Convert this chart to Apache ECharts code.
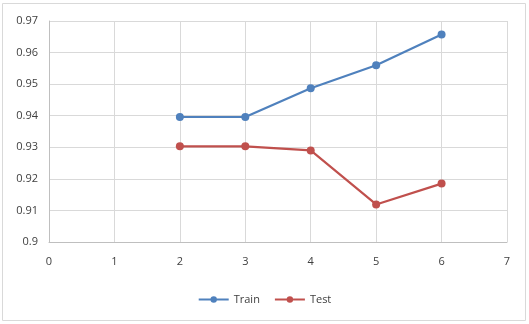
<!DOCTYPE html>
<html>
  <head>
    <meta charset="utf-8">
    <title>Train / Test</title>
    <script src="https://cdn.jsdelivr.net/npm/echarts@6/dist/echarts.min.js"></script>
    <style>
      html, body { margin: 0; padding: 0; background: #fff; }
      #main { width: 529px; height: 324px; }
    </style>
  </head>
  <body>
    <div id="main"></div>
    <script type="text/javascript">
      // data
      var xs = [2, 3, 4, 5, 6];
      var train = [0.9396, 0.9396, 0.9487, 0.9560, 0.9657];
      var test = [0.9303, 0.9303, 0.9290, 0.9119, 0.9185];
      var yTicks = ['0.9', '0.91', '0.92', '0.93', '0.94', '0.95', '0.96', '0.97'];

      function pairs(vals) {
        var out = [];
        for (var i = 0; i < xs.length; i++) {
          out.push([xs[i], vals[i]]);
        }
        return out;
      }

      var myChart = echarts.init(document.getElementById('main'));
      var font = 'Open Sans, Liberation Sans, sans-serif';
      var option = {
        animation: false,
        textStyle: { fontFamily: font },
        graphic: [{
          type: 'rect',
          shape: { x: 2.5, y: 3.5, width: 523, height: 317 },
          style: { fill: 'none', stroke: '#d9d9d9', lineWidth: 1 }
        }],
        grid: { left: 49, right: 22, top: 21, bottom: 82 },
        legend: {
          bottom: 14,
          left: 'center',
          itemWidth: 30,
          itemHeight: 8,
          itemGap: 14,
          textStyle: { fontSize: 11, color: '#404040', fontFamily: font },
          data: ['Train', 'Test']
        },
        xAxis: {
          type: 'value',
          min: 0,
          max: 7,
          interval: 1,
          axisLine: { lineStyle: { color: '#bfbfbf' } },
          axisTick: { show: false },
          axisLabel: { color: '#404040', fontSize: 11, margin: 14 },
          splitLine: { show: true, lineStyle: { color: '#d9d9d9' } }
        },
        yAxis: {
          type: 'value',
          min: 0.9,
          max: 0.97,
          interval: 0.01,
          axisLine: { show: true, lineStyle: { color: '#bfbfbf' } },
          axisTick: { show: false },
          axisLabel: {
            color: '#404040',
            fontSize: 11,
            margin: 11,
            formatter: function (v) {
              var idx = Math.round((v - 0.9) / 0.01);
              return yTicks[idx];
            }
          },
          splitLine: { show: true, lineStyle: { color: '#d9d9d9' } }
        },
        series: [
          {
            name: 'Train',
            type: 'line',
            data: pairs(train),
            symbol: 'circle',
            symbolSize: 8,
            itemStyle: { color: '#4f81bd' },
            lineStyle: { color: '#4f81bd', width: 2.2 }
          },
          {
            name: 'Test',
            type: 'line',
            data: pairs(test),
            symbol: 'circle',
            symbolSize: 8,
            itemStyle: { color: '#c0504d' },
            lineStyle: { color: '#c0504d', width: 2.2 }
          }
        ]
      };
      myChart.setOption(option);
    </script>
  </body>
</html>
